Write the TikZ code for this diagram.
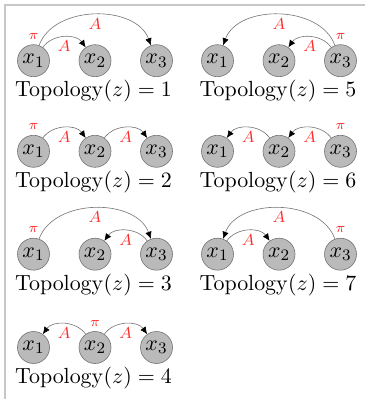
\documentclass[tikz,border=0pt]{standalone}
\usetikzlibrary{arrows.meta}
\definecolor{lblred}{RGB}{255,45,45}
\tikzset{
  var/.style={circle,draw=black!55,fill=black!27,minimum size=16pt,inner sep=0pt,line width=0.3pt,font=\fontsize{11}{13}\selectfont},
  arc/.style={draw=black!55,line width=0.3pt,-{Latex[length=3.6pt,width=3.2pt,color=black]}},
  small/.style={bend left=55},
  big/.style={bend left=70},
  smallr/.style={bend right=55},
  bigr/.style={bend right=70},
  alab/.style={midway,below,text=lblred,font=\fontsize{7.8}{9}\selectfont,inner sep=1.6pt},
  pilab/.style={label={[label distance=-1pt,text=lblred,font=\scriptsize]above:$\pi$}},
  topo/.style={inner sep=0pt,font=\fontsize{10.6}{12}\selectfont},
  frame/.style={draw=black!22,line width=0.6pt}
}
\begin{document}
\begin{tikzpicture}[x=0.5pt,y=-0.5pt]
\useasboundingbox (0,0) rectangle (365,399);
\coordinate (fa) at (5,399);
\coordinate (fb) at (5,5);
\coordinate (fc) at (365,5);
\draw[frame] (fa) -- (fb) -- (fc);
% ---- Topology 1
\node[var,pilab] (a1) at (33.5,60.7) {$x_1$};
\node[var] (a2) at (95,60.7) {$x_2$};
\node[var] (a3) at (156.5,60.7) {$x_3$};
\node[topo] (ta) at (93.5,91) {$\mathrm{Topology}(z)=1$};
\draw[arc] (a1) to[small] node[alab] {$A$} (a2);
\draw[arc] (a1) to[big] node[alab] {$A$} (a3);
% ---- Topology 5
\node[var] (e1) at (217.5,60.7) {$x_1$};
\node[var] (e2) at (279,60.7) {$x_2$};
\node[var,pilab] (e3) at (340.5,60.7) {$x_3$};
\node[topo] (te) at (278,91) {$\mathrm{Topology}(z)=5$};
\draw[arc] (e3) to[smallr] node[alab] {$A$} (e2);
\draw[arc] (e3) to[bigr] node[alab] {$A$} (e1);
% ---- Topology 2
\node[var,pilab] (b1) at (33.5,151.3) {$x_1$};
\node[var] (b2) at (95,151.3) {$x_2$};
\node[var] (b3) at (156.5,151.3) {$x_3$};
\node[topo] (tb) at (93.5,181.7) {$\mathrm{Topology}(z)=2$};
\draw[arc] (b1) to[small] node[alab] {$A$} (b2);
\draw[arc] (b2) to[small] node[alab] {$A$} (b3);
% ---- Topology 6
\node[var] (f1) at (217.5,151.3) {$x_1$};
\node[var] (f2) at (279,151.3) {$x_2$};
\node[var,pilab] (f3) at (340.5,151.3) {$x_3$};
\node[topo] (tf) at (278,181.7) {$\mathrm{Topology}(z)=6$};
\draw[arc] (f2) to[smallr] node[alab] {$A$} (f1);
\draw[arc] (f3) to[smallr] node[alab] {$A$} (f2);
% ---- Topology 3
\node[var,pilab] (c1) at (33.5,254.2) {$x_1$};
\node[var] (c2) at (95,254.2) {$x_2$};
\node[var] (c3) at (156.5,254.2) {$x_3$};
\node[topo] (tc) at (93.5,285) {$\mathrm{Topology}(z)=3$};
\draw[arc] (c1) to[big] node[alab] {$A$} (c3);
\draw[arc] (c3) to[smallr] node[alab] {$A$} (c2);
% ---- Topology 7
\node[var] (g1) at (217.5,254.2) {$x_1$};
\node[var] (g2) at (279,254.2) {$x_2$};
\node[var,pilab] (g3) at (340.5,254.2) {$x_3$};
\node[topo] (tg) at (278,285) {$\mathrm{Topology}(z)=7$};
\draw[arc] (g3) to[bigr] node[alab] {$A$} (g1);
\draw[arc] (g1) to[small] node[alab] {$A$} (g2);
% ---- Topology 4
\node[var] (d1) at (33.5,347.5) {$x_1$};
\node[var,pilab] (d2) at (95,347.5) {$x_2$};
\node[var] (d3) at (156.5,347.5) {$x_3$};
\node[topo] (td) at (93.5,378.3) {$\mathrm{Topology}(z)=4$};
\draw[arc] (d2) to[smallr] node[alab] {$A$} (d1);
\draw[arc] (d2) to[small] node[alab] {$A$} (d3);
\end{tikzpicture}
\end{document}
